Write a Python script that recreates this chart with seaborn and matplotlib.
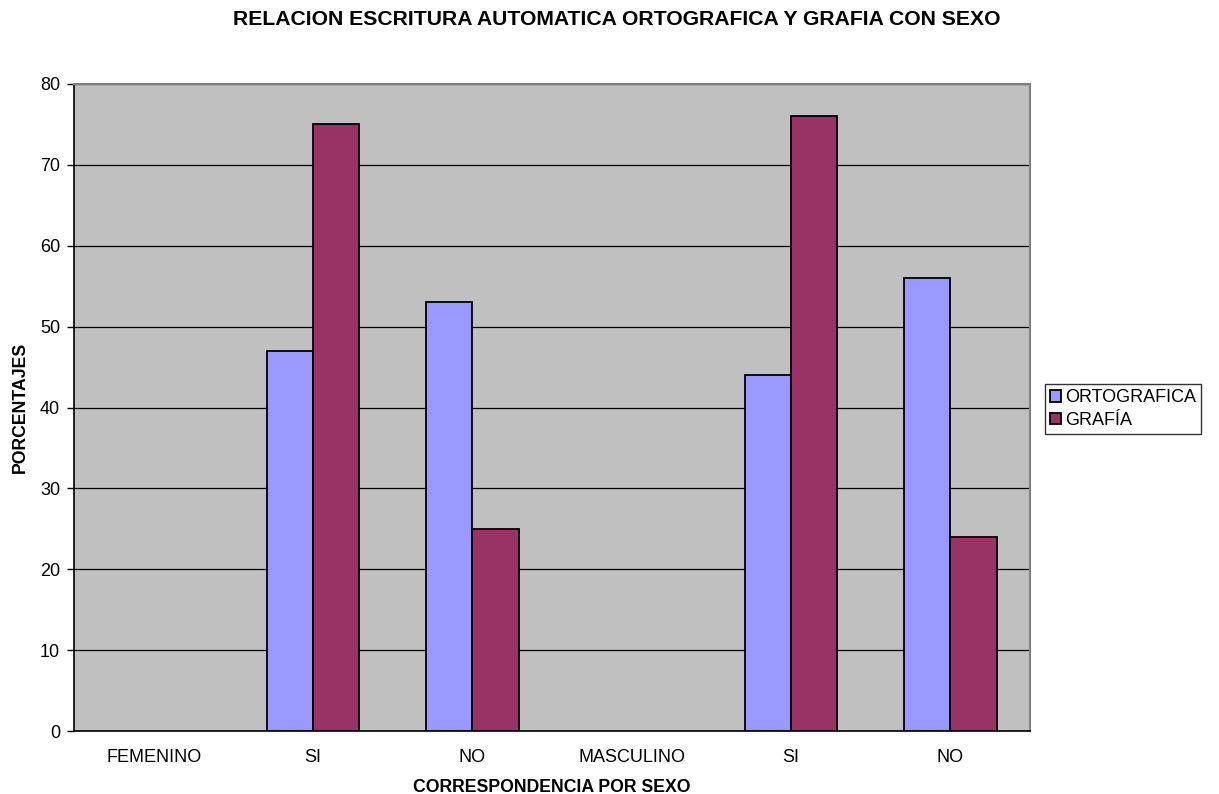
import numpy as np
import pandas as pd
import seaborn as sns
from matplotlib import pyplot as plt
from matplotlib.patches import Patch

categories = ['FEMENINO', 'SI', 'NO', 'MASCULINO', 'SI', 'NO']
ortografica = [np.nan, 47, 53, np.nan, 44, 56]
grafia = [np.nan, 75, 25, np.nan, 76, 24]
series = ['ORTOGRAFICA', 'GRAFÍA']
colors = ['#9999FF', '#993366']

rows = []
for i in range(len(categories)):
    for name, vals in zip(series, [ortografica, grafia]):
        if not np.isnan(vals[i]):
            rows.append({'pos': i, 'serie': name, 'valor': vals[i]})
df = pd.DataFrame(rows)

sns.set_style('white')
plt.rcParams['font.family'] = ['Liberation Sans', 'DejaVu Sans']
plt.rcParams['text.color'] = 'black'
plt.rcParams['axes.labelcolor'] = 'black'
plt.rcParams['xtick.color'] = 'black'
plt.rcParams['ytick.color'] = 'black'

fig = plt.figure(figsize=(12.19, 7.94), dpi=100)
ax = fig.add_axes([74 / 1219, 1 - 731 / 794, (1030 - 74) / 1219, (731 - 84) / 794])
ax.set_facecolor('#C0C0C0')

sns.barplot(data=df, x='pos', y='valor', hue='serie', hue_order=series,
            order=list(range(len(categories))), palette=colors, saturation=1,
            width=0.58, edgecolor='black', linewidth=1.3, gap=0, ax=ax,
            legend=False, zorder=3)

ax.set_ylim(0, 80)
ax.set_xlim(-0.5, len(categories) - 0.5)
ax.set_yticks(range(0, 81, 10))
ax.yaxis.grid(True, color='black', linewidth=0.9, zorder=0)
ax.set_axisbelow(True)

ax.set_xticks(range(len(categories)))
ax.set_xticklabels(categories, fontsize=13)
ax.set_xticks(np.arange(-0.5, len(categories), 1), minor=True)
ax.tick_params(axis='x', which='major', length=0, pad=13)
ax.tick_params(axis='x', which='minor', length=5, width=1, color='#555555', direction='out')
ax.tick_params(axis='y', length=5, width=1, direction='out', labelsize=13, left=True, pad=5)

for s in ['left', 'bottom']:
    ax.spines[s].set_color('black')
    ax.spines[s].set_linewidth(1.2)
for s in ['top', 'right']:
    ax.spines[s].set_color('#808080')
    ax.spines[s].set_linewidth(1.5)

ax.set_xlabel('CORRESPONDENCIA POR SEXO', fontsize=12.7, fontweight='bold', va='center')
ax.xaxis.set_label_coords(0.5, (731 - 787) / 647)
ax.set_ylabel('PORCENTAJES', fontsize=12.7, fontweight='bold', va='center')
ax.yaxis.set_label_coords((20 - 74) / 956, 0.5)
fig.suptitle('RELACION ESCRITURA AUTOMATICA ORTOGRAFICA Y GRAFIA CON SEXO',
             x=(232 + 1002) / 2 / 1219, y=1 - 10 / 794, va='top', fontsize=15.2,
             fontweight='bold')

handles = [Patch(facecolor=c, edgecolor='black', linewidth=1.3) for c in colors]
fig.legend(handles, series, loc='center left', bbox_to_anchor=(1045 / 1219, 1 - 409 / 794),
           frameon=True, fancybox=False, edgecolor='black', fontsize=13,
           handlelength=0.6, handleheight=0.6, handletextpad=0.2,
           borderpad=0.3, labelspacing=0.3, borderaxespad=0)

plt.savefig('out.png', dpi=100)
